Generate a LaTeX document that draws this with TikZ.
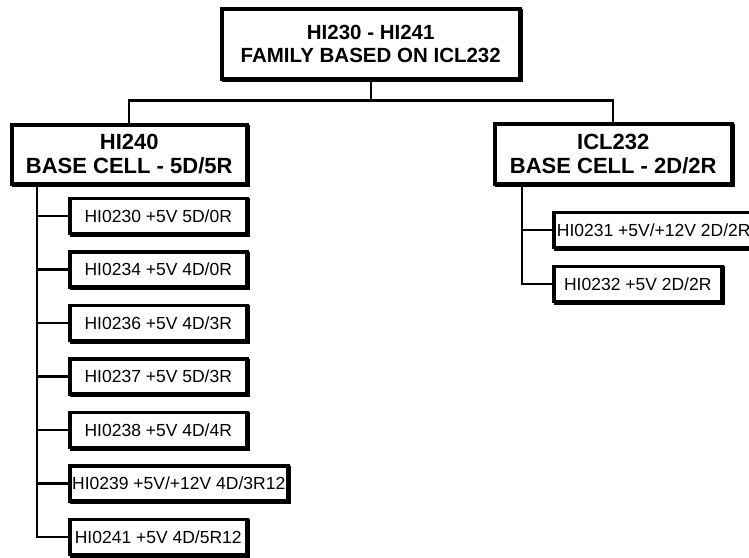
\documentclass[tikz,border=0pt]{standalone}
\usepackage{fontspec}
\setmainfont{Liberation Sans}
\usepackage{tikz}
\usetikzlibrary{positioning, shadows}
\tikzset{
    cellBox/.style={rectangle, draw=black, line width=3.5pt, fill=white, align=center, inner sep=0pt, font=\fontsize{22}{24}\selectfont\bfseries, drop shadow={shadow xshift=1.6pt, shadow yshift=-1.6pt, opacity=1, fill=black, draw=black, line width=3.5pt}},
    partBox/.style={cellBox, font=\fontsize{17.5}{20}\selectfont, minimum height=35pt, anchor=west},
    link/.style={line width=2.2pt}
}

\begin{document}
\begin{tikzpicture}[x=1pt, y=-1pt]
    \useasboundingbox (0,0) rectangle (749,557);

    % Family
    \node[cellBox, minimum width=298pt, minimum height=70pt, font=\fontsize{20.5}{23}\selectfont\bfseries] (top) at (370.75,43.75) {HI230 - HI241\\FAMILY BASED ON ICL232};

    % Base cells
    \node[cellBox, minimum width=235pt, minimum height=59pt] (hi240) at (129.25,154.25) {HI240\\BASE CELL - 5D/5R};
    \node[cellBox, minimum width=237pt, minimum height=60pt] (icl232) at (613.25,154) {ICL232\\BASE CELL - 2D/2R};

    \draw[link] (top.south) -- ++(0,20) coordinate (bus);
    \draw[link] (hi240.north) |- (bus) -| (icl232.north);

    % HI240 parts
    \node[partBox, minimum width=177pt] (p0230) at (68,216) {HI0230 +5V 5D/0R};
    \node[partBox, minimum width=177pt] (p0234) at (68,269.5) {HI0234 +5V 4D/0R};
    \node[partBox, minimum width=177pt] (p0236) at (68,323) {HI0236 +5V 4D/3R};
    \node[partBox, minimum width=177pt] (p0237) at (68,376.5) {HI0237 +5V 5D/3R};
    \node[partBox, minimum width=177pt] (p0238) at (68,430) {HI0238 +5V 4D/4R};
    \node[partBox, minimum width=218pt] (p0239) at (68,483.5) {HI0239 +5V/+12V 4D/3R12};
    \node[partBox, minimum width=177pt] (p0241) at (68,537) {HI0241 +5V 4D/5R12};

    \coordinate (lspine) at (37,185);
    \foreach \p in {p0230,p0234,p0236,p0237,p0238,p0239,p0241}
        \draw[link] (lspine) |- (\p.west);

    % ICL232 parts
    \node[partBox, minimum width=200pt] (p0231) at (552,230) {HI0231 +5V/+12V 2D/2R};
    \node[partBox, minimum width=168pt] (p0232) at (552,284) {HI0232 +5V 2D/2R};

    \coordinate (rspine) at (522,185);
    \foreach \p in {p0231,p0232}
        \draw[link] (rspine) |- (\p.west);
\end{tikzpicture}
\end{document}
